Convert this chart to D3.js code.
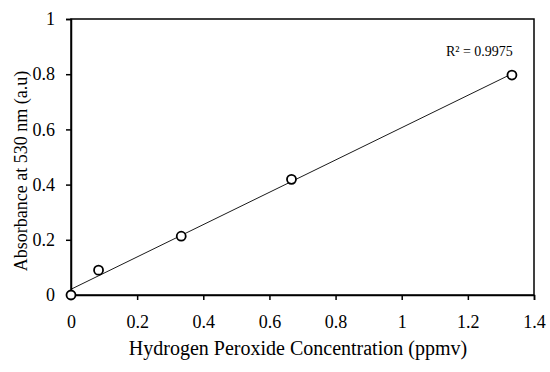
<!DOCTYPE html>
<html>
<head>
<meta charset="utf-8">
<script src="https://cdn.jsdelivr.net/npm/d3@7"></script>
<style>
  body { margin: 0; background: #fff; }
  svg text { font-family: "Liberation Serif", serif; fill: #000; }
</style>
</head>
<body>
<svg class="chart"></svg>
<script>
// concentration (ppmv) and absorbance readings
const concentration = [0, 0.0833, 0.3333, 0.6667, 1.3333]
const absorbance = [0, 0.09, 0.213, 0.419, 0.797]
const xTicks = [0, 0.2, 0.4, 0.6, 0.8, 1, 1.2, 1.4]
const yTicks = [0, 0.2, 0.4, 0.6, 0.8, 1]
const r2Label = 'R² = 0.9975'

const serif = '"Liberation Serif", serif'
const width = 550
const height = 372
const padding = { top: 19, right: 16, bottom: 77, left: 71 }

const svg = d3.select('.chart')
    .attr('width', width)
    .attr('height', height)

const xScale = d3.scaleLinear()
    .domain([0, 1.4])
    .range([padding.left, width - padding.right])

const yScale = d3.scaleLinear()
    .domain([0, 1])
    .range([height - padding.bottom, padding.top])

const fmt = d => d === 0 || d === 1 ? String(d) : d3.format('.1f')(d)

// frame
svg.append('rect')
    .attr('x', xScale(0))
    .attr('y', yScale(1))
    .attr('width', xScale(1.4) - xScale(0))
    .attr('height', yScale(0) - yScale(1))
    .attr('fill', 'none')
    .attr('stroke', '#000')
    .attr('stroke-width', 1.5)

const xAxis = svg.append('g')
    .attr('transform', `translate(0, ${yScale(0)})`)
    .call(d3.axisBottom(xScale).tickValues(xTicks).tickFormat(fmt).tickSize(5).tickPadding(15))

const yAxis = svg.append('g')
    .attr('transform', `translate(${xScale(0)}, 0)`)
    .call(d3.axisLeft(yScale).tickValues(yTicks).tickFormat(fmt).tickSize(5).tickPadding(11))

;[xAxis, yAxis].forEach(ax => {
    ax.attr('font-family', serif).attr('font-size', 18)
    ax.select('.domain').attr('stroke-width', 1.5)
    ax.selectAll('.tick line').attr('stroke-width', 1.5)
})

// least squares trendline
const mx = d3.mean(concentration)
const my = d3.mean(absorbance)
const sxy = d3.sum(concentration, (x, i) => (x - mx) * (absorbance[i] - my))
const sxx = d3.sum(concentration, x => (x - mx) * (x - mx))
const slope = sxy / sxx
const intercept = my - slope * mx
const xEnds = d3.extent(concentration)

svg.append('path')
    .datum(xEnds)
    .attr('d', d3.line().x(d => xScale(d)).y(d => yScale(intercept + slope * d)))
    .attr('stroke', '#000')
    .attr('stroke-width', 0.9)
    .attr('fill', 'none')

svg.selectAll('.pt')
    .data(concentration)
    .enter()
    .append('circle')
    .attr('class', 'pt')
    .attr('cx', d => xScale(d))
    .attr('cy', (d, i) => yScale(absorbance[i]))
    .attr('r', 4.5)
    .attr('fill', '#fff')
    .attr('stroke', '#000')
    .attr('stroke-width', 1.8)

svg.append('text')
    .attr('x', xScale(1.333) + 1)
    .attr('y', yScale(0.865))
    .style('text-anchor', 'end')
    .style('font-size', '14px')
    .text(r2Label)

svg.append('text')
    .attr('x', 298)
    .attr('y', 355)
    .style('text-anchor', 'middle')
    .style('font-size', '20px')
    .text('Hydrogen Peroxide Concentration (ppmv)')

svg.append('text')
    .attr('transform', 'translate(27, 171) rotate(-90)')
    .style('text-anchor', 'middle')
    .style('font-size', '18px')
    .text('Absorbance at 530 nm (a.u)')
</script>
</body>
</html>
